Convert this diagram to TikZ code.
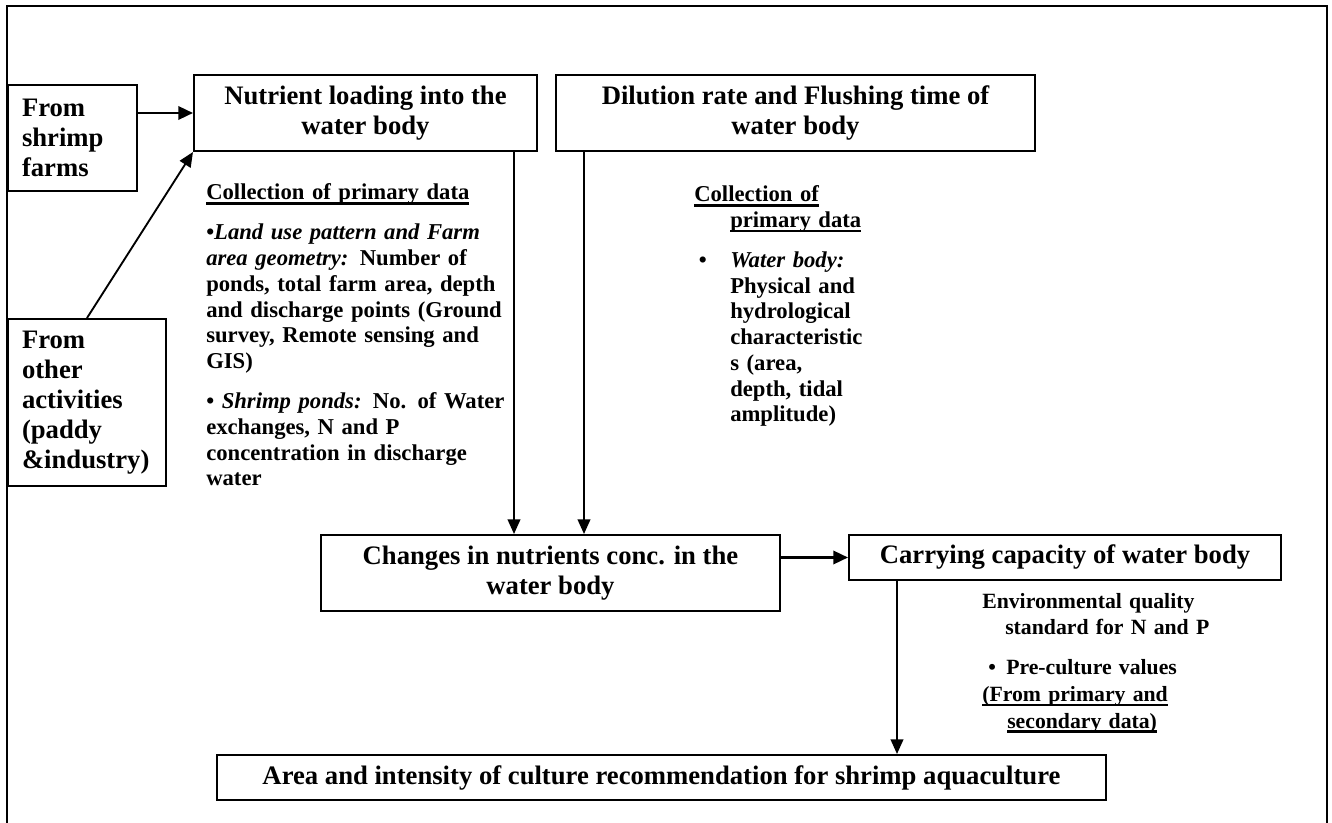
\documentclass[tikz,border=0pt]{standalone}
\usepackage{fontspec}
\setmainfont{Liberation Serif}
\usetikzlibrary{arrows.meta}
\newcommand{\myul}[1]{\leavevmode\setbox0=\hbox{#1}\rlap{\rule[-3.4pt]{\wd0}{1.7pt}}\box0}
\newcommand{\hdr}{\fontsize{20pt}{22.5pt}\selectfont\bfseries}
\newcommand{\bod}{\fontsize{17pt}{19.3pt}\selectfont\bfseries}
\newcommand{\bodc}{\fontsize{16.3pt}{20pt}\selectfont\bfseries}
\begin{document}
\begin{tikzpicture}[x=0.75pt,y=-0.75pt,
  box/.style={draw, line width=1.5pt, font=\hdr, align=center, inner sep=0pt},
  lbox/.style={align=left, inner xsep=10.5pt, inner ysep=0pt},
  txt/.style={anchor=base west, align=left, inner sep=0pt},
  arr/.style={line width=1.4pt, -{Triangle[length=11pt,width=9.5pt]}},
  arrh/.style={line width=1.8pt, -{Triangle[length=11pt,width=10pt]}},
  frame/.style={line width=1.5pt}]
\useasboundingbox (0,0) rectangle (1332,823);
\draw[frame] (7,823) -- (7,6) -- (1327,6) -- (1327,823);

\node[box, minimum width=257.25pt, minimum height=57pt] (nut) at (365.5,113) {Nutrient loading into the\\water body};
\node[box, minimum width=359.25pt, minimum height=57pt] (dil) at (795.5,113) {Dilution rate and Flushing time of\\water body};
\node[box, lbox, minimum width=96.75pt, minimum height=79.5pt, text width=75.75pt] (shr) at (72.5,138) {From\\shrimp\\farms};
\node[box, lbox, minimum width=118.5pt, minimum height=125.25pt, text width=97.5pt] (oth) at (87,402.5) {From\\other\\activities\\(paddy\\\&industry)};
\node[box, minimum width=344.25pt, minimum height=57pt] (chg) at (550.5,573) {Changes in nutrients conc. in the\\water body};
\node[box, minimum width=324pt, minimum height=33.75pt] (car) at (1065,557.5) {Carrying capacity of water body};
\node[box, minimum width=666.75pt, minimum height=33.75pt] (area) at (661.5,777.5) {Area and intensity of culture recommendation for shrimp aquaculture};

\node[txt, font=\bod, text width=230pt] (lb) at (206,200) {\myul{Collection of primary data}\\[10.7pt]
•\textit{Land use pattern and Farm}\\
\textit{area geometry:} Number of\\
ponds, total farm area, depth\\
and discharge points (Ground\\
survey, Remote sensing and\\
GIS)\\[10.7pt]
• \textit{Shrimp ponds:} No. of Water\\
exchanges, N and P\\
concentration in discharge\\
water};

\node[txt, font=\bod, text width=150pt] (rb) at (694,202) {\myul{Collection of}\\
\hspace*{27pt}\myul{primary data}\\[10.5pt]
\makebox[27pt][l]{\hspace*{3.5pt}•}\textit{Water body:}\\
\hspace*{27pt}Physical and\\
\hspace*{27pt}hydrological\\
\hspace*{27pt}characteristic\\
\hspace*{27pt}s (area,\\
\hspace*{27pt}depth, tidal\\
\hspace*{27pt}amplitude)};

\node[txt, font=\bodc, text width=200pt] (cb) at (982,608) {Environmental quality\\
\hspace*{17.25pt}standard for N and P\\[10pt]
\makebox[18pt][l]{\hspace*{4.5pt}•}Pre-culture values\\
\myul{(From primary and}\\
\hspace*{18.75pt}\myul{secondary data)}};

\coordinate (n1) at ([xshift=-18pt]nut.south east);
\coordinate (d1) at ([xshift=21.75pt]dil.south west);
\coordinate (c1) at ([xshift=36.75pt]car.south west);

\draw[arrh] (shr.east |- nut.west) -- (nut.west);
\draw[arr] (oth.north) -- (nut.south west);
\draw[arr] (n1) -- (n1 |- chg.north);
\draw[arr] (d1) -- (d1 |- chg.north);
\draw[arrh] (chg.east |- car.west) -- (car.west);
\draw[arr] (c1) -- (c1 |- area.north);
\end{tikzpicture}
\end{document}
